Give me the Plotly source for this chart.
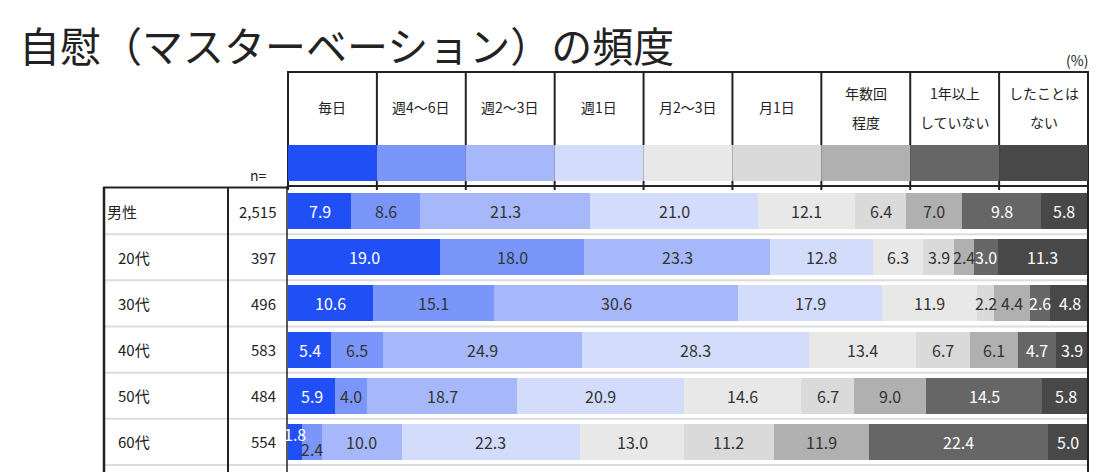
import plotly.graph_objects as go

W, H = 1109, 472

title = "自慰（マスターベーション）の頻度"
categories = ["毎日", "週4～6日", "週2～3日", "週1日", "月2～3日", "月1日", "年数回<br>程度", "1年以上<br>していない", "したことは<br>ない"]
colors = ["#1f4ff5", "#7b96fa", "#a6b8fa", "#d3dcfb", "#e8e8e8", "#dadada", "#b0b0b0", "#666666", "#484848"]
text_colors = ["#ffffff", "#333333", "#333333", "#333333", "#333333", "#333333", "#333333", "#ffffff", "#ffffff"]
groups = ["男性", "20代", "30代", "40代", "50代", "60代"]
n_values = ["2,515", "397", "496", "583", "484", "554"]
values = {
    "男性": [7.9, 8.6, 21.3, 21.0, 12.1, 6.4, 7.0, 9.8, 5.8],
    "20代": [19.0, 18.0, 23.3, 12.8, 6.3, 3.9, 2.4, 3.0, 11.3],
    "30代": [10.6, 15.1, 30.6, 17.9, 11.9, 2.2, 4.4, 2.6, 4.8],
    "40代": [5.4, 6.5, 24.9, 28.3, 13.4, 6.7, 6.1, 4.7, 3.9],
    "50代": [5.9, 4.0, 18.7, 20.9, 14.6, 6.7, 9.0, 14.5, 5.8],
    "60代": [1.8, 2.4, 10.0, 22.3, 13.0, 11.2, 11.9, 22.4, 5.0],
}

FONT = "Noto Sans CJK JP"
DARK = "#222222"


def X(px):
    return px / W


def Y(py):
    return 1 - py / H


fig = go.Figure()
for i, cat in enumerate(categories):
    fig.add_trace(go.Bar(
        y=groups,
        x=[values[g][i] for g in groups],
        orientation="h",
        marker=dict(color=colors[i], line=dict(width=0)),
        name=cat.replace("<br>", ""),
        hoverinfo="x",
    ))

annotations = []
shapes = []

# bar value labels
for g in groups:
    start = 0.0
    for i, v in enumerate(values[g]):
        yshift = 0
        if g == "60代" and i == 0:
            yshift = 8
        if g == "60代" and i == 1:
            yshift = -7
        annotations.append(dict(
            x=start + v / 2, y=g, xref="x", yref="y", text=f"{v:.1f}",
            showarrow=False, font=dict(family=FONT, size=16, color=text_colors[i]),
            yshift=yshift,
        ))
        start += v

# Title
annotations.append(dict(x=X(17), y=Y(44), xref="paper", yref="paper", text=title,
                        showarrow=False, xanchor="left", yanchor="middle",
                        font=dict(family=FONT, size=41, color=DARK)))
annotations.append(dict(x=X(1090), y=Y(60), xref="paper", yref="paper", text="(%)",
                        showarrow=False, xanchor="right", yanchor="middle",
                        font=dict(family=FONT, size=14, color=DARK)))
annotations.append(dict(x=X(258), y=Y(175), xref="paper", yref="paper", text="n=",
                        showarrow=False, xanchor="center", yanchor="middle",
                        font=dict(family=FONT, size=14, color=DARK)))

# Header
col_left, col_right = 288, 1088
cw = (col_right - col_left) / len(categories)
for i in range(len(categories) + 1):
    xp = col_left + i * cw
    shapes.append(dict(type="line", xref="paper", yref="paper",
                       x0=X(xp), x1=X(xp), y0=Y(72), y1=Y(190),
                       line=dict(color=DARK, width=2)))
for i, cat in enumerate(categories):
    x0 = col_left + i * cw
    x1 = x0 + cw
    parts = cat.split("<br>")
    ys = [107] if len(parts) == 1 else [93, 122]
    for part, yy in zip(parts, ys):
        annotations.append(dict(x=X((x0 + x1) / 2), y=Y(yy), xref="paper", yref="paper",
                                text=part, showarrow=False, xanchor="center", yanchor="middle",
                                font=dict(family=FONT, size=14, color=DARK)))
    shapes.append(dict(type="rect", xref="paper", yref="paper",
                       x0=X(x0), x1=X(x1), y0=Y(181), y1=Y(145),
                       fillcolor=colors[i], line=dict(width=0)))
shapes.append(dict(type="line", xref="paper", yref="paper", x0=X(287), x1=X(1089),
                   y0=Y(72), y1=Y(72), line=dict(color=DARK, width=2)))
shapes.append(dict(type="line", xref="paper", yref="paper", x0=X(287), x1=X(1089),
                   y0=Y(186), y1=Y(186), line=dict(color=DARK, width=2)))

# Left table
row_top, row_bot = 188, 465
rh = (row_bot - row_top) / len(groups)
for j, g in enumerate(groups):
    yc = row_top + rh * (j + 0.5)
    annotations.append(dict(x=X(105 if j == 0 else 116), y=Y(yc), xref="paper", yref="paper",
                            text=g, showarrow=False, xanchor="left", yanchor="middle",
                            font=dict(family=FONT, size=15, color=DARK)))
    annotations.append(dict(x=X(278), y=Y(yc), xref="paper", yref="paper",
                            text=n_values[j], showarrow=False, xanchor="right", yanchor="middle",
                            font=dict(family=FONT, size=15, color=DARK)))
    yb = row_top + rh * (j + 1)
    shapes.append(dict(type="line", xref="paper", yref="paper", x0=X(104), x1=X(1087),
                       y0=Y(yb), y1=Y(yb), line=dict(color="#dcdcdc", width=2), layer="below"))

shapes.append(dict(type="line", xref="paper", yref="paper", x0=X(103), x1=X(288),
                   y0=Y(187.5), y1=Y(187.5), line=dict(color=DARK, width=2)))
for xp in (104, 228):
    shapes.append(dict(type="line", xref="paper", yref="paper", x0=X(xp), x1=X(xp),
                       y0=Y(187), y1=0, line=dict(color=DARK, width=2.5 if xp == 104 else 2)))
shapes.append(dict(type="line", xref="paper", yref="paper", x0=X(287), x1=X(287),
                   y0=Y(186), y1=0, line=dict(color=DARK, width=1.5)))
shapes.append(dict(type="line", xref="paper", yref="paper", x0=X(1088), x1=X(1088),
                   y0=Y(186), y1=0, line=dict(color=DARK, width=2)))

fig.update_layout(
    width=W, height=H,
    margin=dict(l=0, r=0, t=0, b=0),
    paper_bgcolor="white", plot_bgcolor="white",
    barmode="stack", bargap=0.22,
    showlegend=False,
    xaxis=dict(domain=[X(288), X(1088)], range=[0, 100], visible=False, fixedrange=True),
    yaxis=dict(domain=[Y(row_bot), Y(row_top)], autorange="reversed", visible=False,
               type="category", fixedrange=True),
    annotations=annotations,
    shapes=shapes,
    font=dict(family=FONT),
)

fig.write_html("out.html", config={"displayModeBar": False},
               post_script="document.body.style.margin='0';document.body.style.overflow='hidden';")
